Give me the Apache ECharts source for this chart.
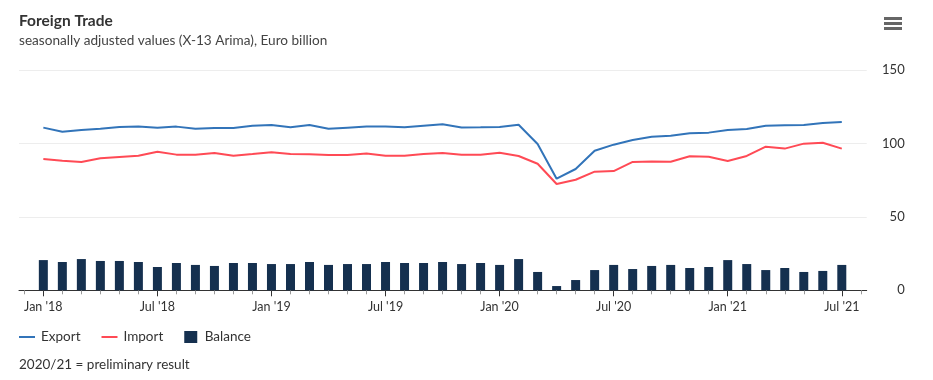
<!DOCTYPE html>
<html>
<head>
<meta charset="utf-8">
<script src="https://cdn.jsdelivr.net/npm/echarts@6/dist/echarts.min.js"></script>
<style>html,body{margin:0;padding:0;background:#fff}#c{width:933px;height:380px}</style>
</head>
<body>
<div id="c"></div>
<script>
// Months Jan 2018 .. Jul 2021 (index 0..42)
var months = ["Jan 18","Feb 18","Mar 18","Apr 18","May 18","Jun 18","Jul 18","Aug 18","Sep 18","Oct 18","Nov 18","Dec 18",
"Jan 19","Feb 19","Mar 19","Apr 19","May 19","Jun 19","Jul 19","Aug 19","Sep 19","Oct 19","Nov 19","Dec 19",
"Jan 20","Feb 20","Mar 20","Apr 20","May 20","Jun 20","Jul 20","Aug 20","Sep 20","Oct 20","Nov 20","Dec 20",
"Jan 21","Feb 21","Mar 21","Apr 21","May 21","Jun 21","Jul 21"];
var exportVals = [110.9,108.1,109.3,110.2,111.3,111.6,110.9,111.6,110.2,110.7,110.7,112.2,
112.7,111.1,112.7,110.2,110.9,111.6,111.6,111.1,112.2,113.2,111.0,111.1,
111.3,112.9,99.7,76.1,82.7,95.2,99.3,102.5,104.7,105.4,107.0,107.5,
109.3,110.0,112.2,112.5,112.7,114.1,114.8];
var importVals = [89.5,88.4,87.5,90.0,90.9,91.8,94.5,92.5,92.5,93.6,91.8,92.9,
94.1,92.9,92.7,92.2,92.2,93.2,91.8,91.8,92.9,93.6,92.5,92.5,
93.8,91.6,86.3,72.5,75.4,80.9,81.3,87.5,87.9,87.7,91.4,91.1,
88.2,91.6,97.9,96.6,100.0,100.6,96.6];
var balanceVals = [20.6,19.3,21.3,20.0,20.0,19.3,15.9,18.6,17.3,16.6,18.6,18.6,
17.9,17.9,19.3,17.3,17.9,17.9,19.3,18.6,18.6,19.3,17.9,18.6,
17.3,21.3,12.5,2.9,7.0,13.8,17.3,14.5,16.6,17.3,15.2,15.9,
20.6,17.9,13.8,15.2,12.5,13.2,17.3];
var tickLabels = ["Jan '18","Jul '18","Jan '19","Jul '19","Jan '20","Jul '20","Jan '21","Jul '21"];
var yTicks = [0,50,100,150];

function pairs(arr){ return arr.map(function(v,i){ return [i,v]; }); }
var majorIdx = tickLabels.map(function(_,k){ return k*6; });
var minorIdx = []; for (var i=-1;i<=43;i++) minorIdx.push(i);

var FONT = 'Lato';
var chart = echarts.init(document.getElementById('c'), null, {renderer:'canvas'});
chart.setOption({
  backgroundColor:'#ffffff',
  animation:false,
  textStyle:{fontFamily:FONT},
  title:{
    text:'Foreign Trade',
    subtext:'seasonally adjusted values (X-13 Arima), Euro billion',
    left:19, top:12, itemGap:2, padding:0,
    textStyle:{fontFamily:FONT,fontSize:15.5,fontWeight:'bold',color:'#333',lineHeight:18},
    subtextStyle:{fontFamily:FONT,fontSize:13.6,color:'#444',lineHeight:18}
  },
  legend:{
    left:19, top:330, itemWidth:16, itemHeight:12, itemGap:21, padding:0,
    textStyle:{fontFamily:FONT,fontSize:13.5,color:'#333',padding:[0,0,0,1]},
    data:[{name:'Export',icon:'path://M0,5h16v2h-16z'},
          {name:'Import',icon:'path://M0,5h16v2h-16z'},
          {name:'Balance',icon:'path://M0,0h13v12h-13z'}]
  },
  graphic:[
    {type:'rect',shape:{x:884,y:17,width:18,height:3},style:{fill:'#666'}},
    {type:'rect',shape:{x:884,y:22,width:18,height:3},style:{fill:'#666'}},
    {type:'rect',shape:{x:884,y:27,width:18,height:3},style:{fill:'#666'}},
    {type:'text',left:19,top:358,style:{text:'2020/21 = preliminary result',font:'13.5px '+FONT,fill:'#333'}}
  ],
  grid:{left:19,right:66.3,top:70.3,bottom:89.7},
  xAxis:[{
    type:'value', min:-1.28, max:43.31, position:'bottom',
    axisLine:{show:true,lineStyle:{color:'#333',width:1}},
    axisTick:{show:true,length:4,customValues:minorIdx,lineStyle:{color:'#999'}},
    axisLabel:{show:false},
    splitLine:{show:false}
  },{
    type:'value', min:-1.28, max:43.31, position:'bottom',
    axisLine:{show:false},
    axisTick:{show:true,length:6,customValues:majorIdx,lineStyle:{color:'#333'}},
    axisLabel:{show:true,customValues:majorIdx,margin:10,fontFamily:FONT,fontSize:12.5,color:'#333',
      formatter:function(v){ return tickLabels[Math.round(v/6)] || ''; }},
    splitLine:{show:false}
  }],
  yAxis:{
    type:'value', position:'right', min:0, max:150, interval:50,
    axisLine:{show:false}, axisTick:{show:false},
    axisLabel:{align:'right',margin:38,fontFamily:FONT,fontSize:13,color:'#333',
      customValues:yTicks},
    splitLine:{show:true,lineStyle:{color:'#ededed',width:1}}
  },
  series:[
    {name:'Export',type:'line',data:pairs(exportVals),showSymbol:false,symbol:'none',
      lineStyle:{color:'#3274b9',width:2},itemStyle:{color:'#3274b9'},z:3},
    {name:'Import',type:'line',data:pairs(importVals),showSymbol:false,symbol:'none',
      lineStyle:{color:'#ff4a55',width:2},itemStyle:{color:'#ff4a55'},z:3},
    {name:'Balance',type:'bar',data:pairs(balanceVals),barWidth:9,
      itemStyle:{color:'#15304f'},z:2}
  ]
});
</script>
</body>
</html>
